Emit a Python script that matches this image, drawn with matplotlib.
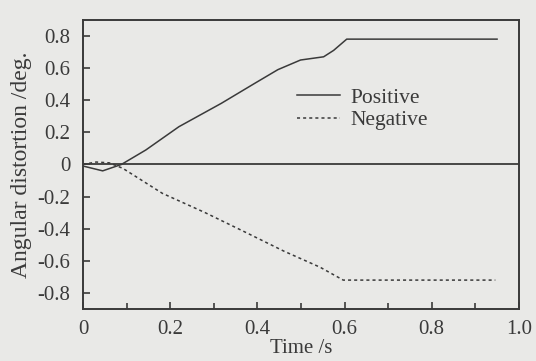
import matplotlib
matplotlib.use("Agg")
import matplotlib.pyplot as plt

# Data
pos_t = [0.0, 0.045, 0.088, 0.144, 0.22, 0.317, 0.394, 0.447, 0.499, 0.552, 0.575, 0.605, 0.95]
pos_v = [-0.01, -0.04, 0.0, 0.09, 0.235, 0.38, 0.505, 0.59, 0.65, 0.67, 0.71, 0.78, 0.78]
neg_t = [0.0, 0.03, 0.06, 0.091, 0.182, 0.28, 0.371, 0.461, 0.544, 0.597, 0.946]
neg_v = [0.0, 0.015, 0.01, -0.024, -0.18, -0.30, -0.42, -0.54, -0.64, -0.72, -0.72]

x_ticks = [0, 0.2, 0.4, 0.6, 0.8, 1.0]
x_ticklabels = ["0", "0.2", "0.4", "0.6", "0.8", "1.0"]
x_minor = [0.1, 0.3, 0.5, 0.7, 0.9]
y_ticks = [0.8, 0.6, 0.4, 0.2, 0, -0.2, -0.4, -0.6, -0.8]
y_ticklabels = ["0.8", "0.6", "0.4", "0.2", "0", "-0.2", "-0.4", "-0.6", "-0.8"]

bg = "#e9e9e7"
ink = "#3a3a3a"
plt.rcParams["font.family"] = ["Liberation Serif", "DejaVu Serif"]

fig = plt.figure(figsize=(5.36, 3.61), dpi=100, facecolor=bg)
ax = fig.add_axes([0.155, 0.144, 0.813, 0.801])
ax.set_facecolor(bg)

ax.axhline(0, color=ink, lw=1.3)
ax.plot(pos_t, pos_v, color=ink, lw=1.1, ls="-", label="Positive")
ax.plot(neg_t, neg_v, color=ink, lw=1.1, ls=(0, (2, 2)), label="Negative")

ax.set_xlim(0, 1.0)
ax.set_ylim(-0.9, 0.9)
ax.set_xticks(x_ticks)
ax.set_xticklabels(x_ticklabels)
ax.set_xticks(x_minor, minor=True)
ax.set_yticks(y_ticks)
ax.set_yticklabels(y_ticklabels)

ax.tick_params(axis="both", which="both", direction="in", colors=ink,
               labelsize=15, length=5, width=1.2)
ax.tick_params(axis="y", pad=9)
ax.tick_params(axis="x", pad=8)
ax.tick_params(axis="x", which="minor", length=4)
for s in ax.spines.values():
    s.set_color(ink)
    s.set_linewidth(1.4)

ax.set_xlabel("Time /s", fontsize=15, color=ink, labelpad=0)
ax.set_ylabel("Angular distortion /deg.", fontsize=17, color=ink, labelpad=4)

leg = ax.legend(loc="upper left", bbox_to_anchor=(0.47, 0.795), frameon=False,
                fontsize=15.5, handlelength=2.0, handletextpad=0.5,
                labelspacing=0.1, borderaxespad=0)
for t in leg.get_texts():
    t.set_color(ink)

fig.savefig("out.png", dpi=100, facecolor=bg)
